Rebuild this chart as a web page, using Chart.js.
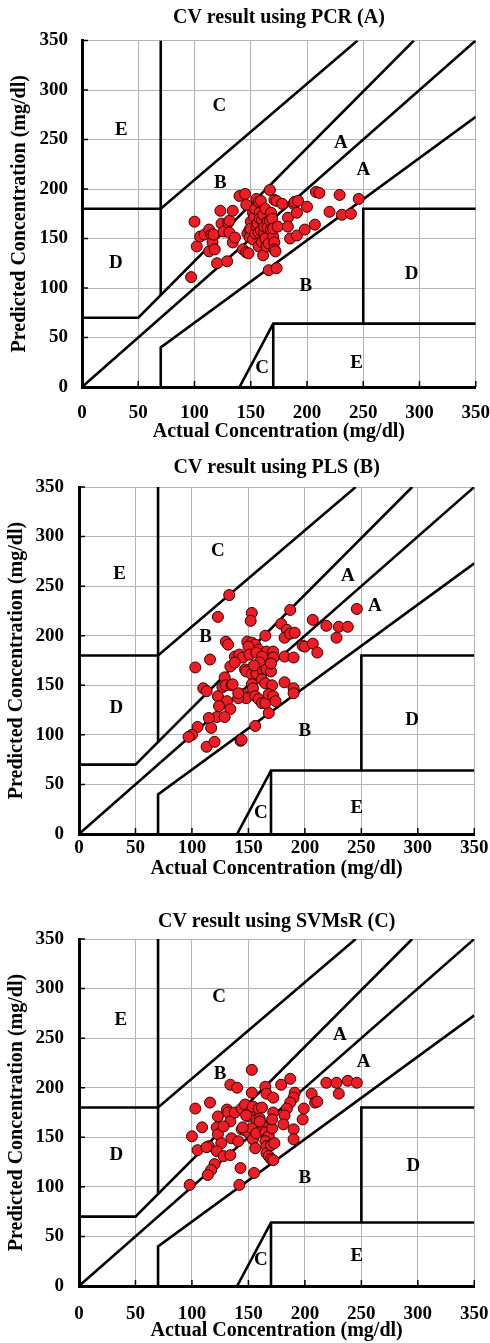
<!DOCTYPE html>
<html>
<head>
<meta charset="utf-8">
<script src="https://cdn.jsdelivr.net/npm/chart.js@4.4.0/dist/chart.umd.min.js"></script>
<style>
  html, body { margin: 0; padding: 0; background: #fff; }
  .panel { position: absolute; left: 0; width: 490px; height: 447px; }
</style>
</head>
<body>
<div class="panel" style="top:0"><canvas id="pcrChart"></canvas></div>
<div class="panel" style="top:447px"><canvas id="plsChart"></canvas></div>
<div class="panel" style="top:896px"><canvas id="svmChart"></canvas></div>
<script>
// [actual, predicted] in mg/dl
const pcrPoints = [[97,111],[100,167],[102,142],[105,152],[109,154],[113,159],[113,137],[115,154],[116,146],[117,154],[118,139],[120,125],[123,178],[124,165],[126,157],[129,127],[130,166],[131,168],[131,156],[134,178],[134,146],[136,151],[140,193],[145,195],[146,184],[143,139],[146,136],[148,135],[147,155],[149,159],[149,151],[150,167],[150,160],[152,176],[152,149],[153,172],[154,180],[154,155],[155,190],[155,162],[156,165],[157,187],[157,156],[157,142],[158,176],[158,170],[159,188],[159,158],[160,169],[160,146],[161,174],[161,133],[162,156],[162,162],[163,180],[163,150],[164,142],[165,167],[165,161],[166,145],[166,118],[167,199],[167,168],[168,159],[168,176],[169,170],[170,152],[170,160],[171,189],[171,146],[171,139],[172,137],[173,120],[173,188],[174,162],[178,185],[183,171],[183,162],[185,150],[188,185],[189,187],[191,176],[192,188],[191,153],[198,159],[200,182],[207,164],[208,197],[211,196],[220,177],[229,194],[231,174],[239,175],[246,190]];

const plsPoints = [[133,241],[123,219],[153,223],[152,215],[130,194],[132,191],[165,200],[187,226],[179,212],[184,206],[182,198],[187,202],[191,203],[207,216],[219,210],[228,198],[230,209],[238,209],[246,227],[198,190],[200,189],[207,192],[211,183],[182,179],[190,178],[182,153],[190,147],[190,142],[149,194],[153,193],[156,191],[150,189],[159,186],[166,184],[172,184],[172,178],[138,179],[142,181],[145,178],[151,181],[157,183],[162,179],[163,169],[160,173],[103,168],[116,176],[134,169],[138,173],[129,158],[110,147],[113,144],[127,148],[130,150],[135,150],[123,139],[131,134],[134,126],[124,129],[122,118],[129,118],[115,117],[117,107],[105,108],[100,100],[97,98],[113,88],[120,93],[143,94],[144,95],[147,166],[148,164],[153,161],[157,162],[163,164],[166,166],[170,164],[153,151],[154,147],[162,156],[165,152],[171,150],[145,141],[148,137],[156,139],[141,137],[159,136],[162,132],[165,132],[168,141],[172,139],[174,134],[168,122],[156,109],[136,151],[141,142],[170,172],[155,170]];

const svmPoints = [[153,218],[134,203],[140,200],[153,195],[165,201],[166,194],[172,190],[179,203],[187,209],[191,195],[190,190],[187,185],[184,179],[182,172],[181,163],[206,194],[209,185],[211,186],[199,179],[198,168],[190,158],[190,148],[219,205],[228,205],[230,194],[238,207],[246,205],[103,179],[100,151],[105,137],[98,102],[116,185],[109,160],[115,141],[113,140],[123,171],[122,160],[123,153],[126,144],[122,136],[128,131],[134,132],[120,123],[117,117],[114,112],[131,178],[132,175],[134,166],[128,161],[135,149],[141,146],[138,175],[144,179],[147,183],[150,171],[151,175],[144,158],[147,157],[150,155],[154,181],[159,179],[162,180],[157,168],[160,169],[153,159],[154,148],[157,154],[156,139],[143,119],[142,102],[155,114],[163,161],[165,155],[166,149],[168,151],[165,146],[166,141],[166,134],[168,131],[170,128],[172,127],[170,142],[173,144],[171,159],[172,175],[171,168],[160,166],[148,172],[145,160]];

const tickValues = [0, 50, 100, 150, 200, 250, 300, 350];

// error grid boundaries (polylines, data units)
const zoneLines = [
  [[0,0],[350,350]],
  [[0,70],[50,70],[295,350]],
  [[0,180],[70,180],[245,350]],
  [[70,350],[70,93]],
  [[70,0],[70,40],[350,273]],
  [[140,0],[170,64],[350,64]],
  [[170,0],[170,64]],
  [[250,64],[250,180],[350,180]]
];

const zoneNames = ['E','C','A','A','B','D','B','D','C','E'];
const pcrZonePos = [[35,260],[122,284],[230,246],[250,219],[123,206],[30,125],[199,102],[293,114],[160,19],[244,24]];
const plsZonePos = [[36,262],[123,285],[238,260],[262,230],[112,199],[33,127],[200,104],[295,115],[161,21],[246,26]];
const svmZonePos = [[37,268],[124,291],[231,253],[252,226],[125,214],[33,132],[200,109],[296,121],[161,26],[246,30]];

const serif = '"Liberation Serif", "Times New Roman", serif';

const zonePlugin = {
  id: 'zoneText',
  beforeDatasetsDraw(chart, args, opts) {
    const {ctx, chartArea, scales: {x, y}} = chart;
    ctx.save();
    ctx.strokeStyle = '#000';
    ctx.lineWidth = 1.5;
    ctx.beginPath();
    tickValues.forEach(v => {
      const px = x.getPixelForValue(v), py = y.getPixelForValue(v);
      ctx.moveTo(px, chartArea.bottom);
      ctx.lineTo(px, chartArea.bottom - 6);
      ctx.moveTo(chartArea.left, py);
      ctx.lineTo(chartArea.left + 6, py);
    });
    ctx.stroke();
    ctx.fillStyle = '#000';
    ctx.font = 'bold 19px ' + serif;
    ctx.textAlign = 'center';
    ctx.textBaseline = 'middle';
    zoneNames.forEach((t, i) => {
      ctx.fillText(t, x.getPixelForValue(opts.pos[i][0]), y.getPixelForValue(opts.pos[i][1]));
    });
    ctx.restore();
  }
};

function makeChart(id, title, points, zonePos, g) {
  const datasets = [{
    data: points.map(p => ({x: p[0], y: p[1]})),
    backgroundColor: '#ee1c24',
    borderColor: '#300000',
    borderWidth: 1,
    pointRadius: 5.5,
    order: 0
  }];
  zoneLines.forEach(line => {
    datasets.push({
      type: 'line',
      data: line.map(p => ({x: p[0], y: p[1]})),
      borderColor: '#000',
      borderWidth: 2.6,
      pointRadius: 0,
      fill: false,
      tension: 0,
      order: 1
    });
  });

  new Chart(document.getElementById(id), {
    type: 'scatter',
    data: {datasets: datasets},
    plugins: [zonePlugin],
    options: {
      responsive: true,
      maintainAspectRatio: false,
      animation: false,
      layout: {padding: {left: 0, right: g.right, top: 0, bottom: 0}},
      plugins: {
        legend: {display: false},
        tooltip: {enabled: false},
        zoneText: {pos: zonePos},
        title: {
          display: true,
          text: title,
          fullSize: false,
          color: '#000',
          font: {family: serif, size: 20, weight: 'bold'},
          padding: {top: g.titleTop, bottom: g.titleBottom}
        }
      },
      scales: {
        x: {
          type: 'linear',
          min: 0, max: 350,
          afterBuildTicks: s => { s.ticks = tickValues.map(v => ({value: v})); },
          afterFit: s => { s.height = g.xHeight; },
          // invisible tick marks give the label gap without widening the right padding
          grid: {color: '#b4b4b4', lineWidth: 1, drawTicks: true, tickLength: g.xTickPad, tickColor: 'rgba(0,0,0,0)'},
          border: {color: '#000', width: 3},
          ticks: {color: '#000', padding: 0, maxRotation: 0, font: {family: serif, size: 19, weight: 'bold'}},
          title: {display: true, text: 'Actual Concentration (mg/dl)', color: '#000',
            font: {family: serif, size: 20, weight: 'bold'}, padding: {top: 0, bottom: g.xTitlePad}}
        },
        y: {
          type: 'linear',
          min: 0, max: 350,
          afterBuildTicks: s => { s.ticks = tickValues.map(v => ({value: v})); },
          afterFit: s => { s.width = g.left; },
          grid: {color: '#b4b4b4', lineWidth: 1, drawTicks: false},
          border: {color: '#000', width: 3},
          ticks: {color: '#000', padding: g.yTickPad, font: {family: serif, size: 19, weight: 'bold'}},
          title: {display: true, text: 'Predicted Concentration (mg/dl)', color: '#000',
            font: {family: serif, size: 20, weight: 'bold'}, padding: {top: g.yTitlePad, bottom: 0}}
        }
      }
    }
  });
}

makeChart('pcrChart', 'CV result using PCR (A)', pcrPoints, pcrZonePos,
  {left: 82, right: 13, titleTop: 6, titleBottom: 10.5, xHeight: 60, xTickPad: 14.5, xTitlePad: 3, yTickPad: 14, yTitlePad: 8});
makeChart('plsChart', 'CV result using PLS (B)', plsPoints, plsZonePos,
  {left: 79, right: 15.7, titleTop: 9, titleBottom: 7, xHeight: 60, xTickPad: 3, xTitlePad: 13, yTickPad: 15, yTitlePad: 5});
makeChart('svmChart', 'CV result using SVMsR (C)', svmPoints, svmZonePos,
  {left: 79, right: 15.7, titleTop: 13.5, titleBottom: 5.5, xHeight: 57, xTickPad: 16.5, xTitlePad: 0, yTickPad: 15, yTitlePad: 5});
</script>
</body>
</html>
